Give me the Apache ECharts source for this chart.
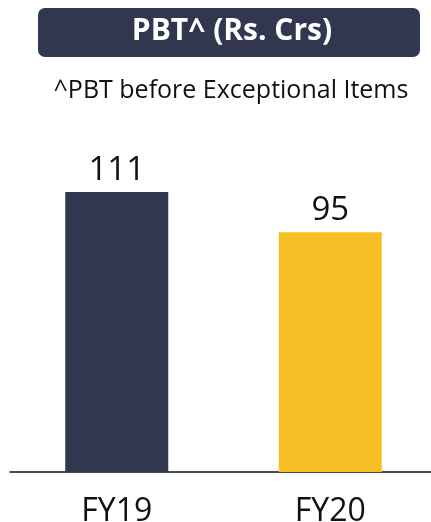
<!DOCTYPE html>
<html><head><meta charset="utf-8">
<script src="https://cdn.jsdelivr.net/npm/echarts@6/dist/echarts.min.js"></script>
<style>html,body{margin:0;padding:0;background:#fff}#c{width:431px;height:522px}</style>
</head><body><div id="c"></div>
<script>
var categories = ['FY19', 'FY20'];
var values = [111, 95];
var barColors = ['#323750', '#F6BF26'];
var titleText = 'PBT^ (Rs. Crs)';
var subtitleText = '^PBT before Exceptional Items';

var chart = echarts.init(document.getElementById('c'));
chart.setOption({
  animation: false,
  title: [
    { text: titleText, left: 227, top: 11, textAlign: 'center',
      textStyle: { color: '#fff', fontFamily: 'Open Sans', fontWeight: 'bold', fontSize: 30 } },
    { text: subtitleText, left: 226, top: 73, textAlign: 'center',
      textStyle: { color: '#111', fontFamily: 'Open Sans', fontWeight: 'normal', fontSize: 25 } }
  ],
  graphic: [
    { type: 'rect', z: -1, shape: { x: 38, y: 8, width: 382, height: 49, r: 7 }, style: { fill: '#323750' } }
  ],
  grid: { left: 10, width: 427, top: 169.3, bottom: 50, outerBoundsMode: 'none', containLabel: false },
  xAxis: {
    type: 'category', data: categories,
    axisLine: { lineStyle: { color: '#111', width: 1.5 } },
    axisTick: { show: false },
    axisLabel: { color: '#111', fontFamily: 'Open Sans', fontSize: 32, margin: 24 }
  },
  yAxis: { type: 'value', min: 0, max: 120, show: false, splitLine: { show: false } },
  series: [{
    type: 'bar', barWidth: 103,
    data: values.map(function (v, i) { return { value: v, itemStyle: { color: barColors[i] } }; }),
    label: { show: true, position: 'top', distance: 5, color: '#111', fontFamily: 'Open Sans', fontSize: 33 }
  }]
});
</script></body></html>
